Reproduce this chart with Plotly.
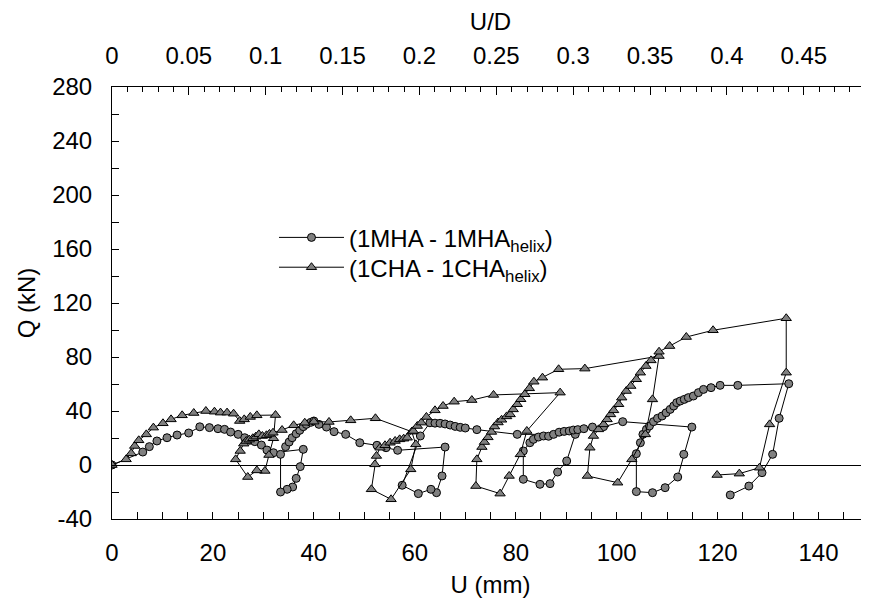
import numpy as np
import plotly.graph_objects as go

# ---------------- data ----------------
D_MM = 304.6  # pile diameter used for the secondary U/D axis

circ_u = [0, 6.1, 7.4, 8.9, 10.9, 12.9, 15.2, 17.4, 19.3, 21.0, 22.3, 23.5, 25.0, 26.3, 27.3,
          28.3, 29.6, 30.7, 32.0, 37.9, 37.3, 36.5, 35.8, 34.7, 33.4, 33.4, 34.4, 35.1, 35.7,
          36.5, 37.2, 37.9, 38.5, 39.4, 40.0, 41.0, 42.5, 44.0, 46.3, 49.1, 52.5, 54.3, 56.6,
          66.0, 65.4, 64.3, 63.2, 60.7, 57.5, 61.1, 63.0, 64.0, 65.0, 66.0, 67.0, 68.0, 69.0,
          70.0, 72.3, 80.3, 91.8, 90.1, 88.3, 86.8, 84.8, 81.5, 81.5, 82.8, 83.5, 84.5, 85.5,
          86.5, 87.5, 88.6, 89.6, 90.6, 91.4, 92.3, 93.5, 95.2, 97.4, 101.2, 114.9, 113.3, 112.1,
          109.6, 107.1, 103.9, 103.9, 104.7, 105.2, 105.9, 106.5, 107.3, 108.1, 109.0, 109.8,
          110.6, 111.3, 111.9, 112.6, 113.4, 114.2, 115.2, 116.2, 117.2, 118.7, 120.5, 124.0,
          134.1, 132.2, 130.9, 128.8, 126.2, 122.5]
circ_q = [0, 9.6, 13.6, 17.8, 20.2, 22.2, 23.7, 28.3, 27.7, 26.9, 26.4, 24.4, 22.7, 20.2, 18.3,
          17.3, 14.8, 11.1, 9.1, 11.6, -1.2, -9.9, -16.3, -18.0, -20.0, 7.9, 13.6, 17.0, 20.2,
          23.2, 25.7, 28.4, 30.1, 31.6, 32.6, 30.1, 28.1, 24.7, 22.7, 16.5, 14.6, 12.8, 10.9,
          13.3, -8.1, -20.5, -18.0, -21.2, -15.0, 21.5, 31.3, 31.0, 30.9, 30.4, 29.6, 28.6, 27.9,
          27.4, 26.2, 22.7, 22.7, 3.0, -5.2, -13.8, -14.3, -10.6, 10.4, 16.5, 19.0, 20.7, 21.5,
          21.3, 22.7, 24.3, 24.9, 25.2, 25.9, 26.2, 26.9, 28.1, 28.4, 32.1, 28.1, 7.9, -8.9,
          -16.8, -20.5, -19.7, 8.4, 16.5, 22.7, 26.4, 28.9, 32.1, 34.6, 36.3, 38.7,
          41.2, 43.7, 46.2, 47.4, 48.6, 49.9, 51.1, 53.6, 56.0, 57.3, 59.0, 59.0,
          60.2, 34.6, 7.9, -5.7, -15.6, -22.2]

tri_u = [0, 2.8, 3.8, 4.5, 5.3, 6.8, 8.2, 10.1, 11.7, 13.9, 16.2, 18.6, 20.3, 21.5, 22.8, 24.1,
         25.3, 26.2, 27.4, 28.7, 32.4, 32.0, 31.1, 30.3, 28.7, 26.9, 24.5, 25.4, 26.1, 26.6,
         27.2, 27.9, 28.5, 29.1, 29.8, 30.6, 31.2, 31.9, 33.7, 36.0, 38.2, 40.0, 43.0, 47.3,
         52.2, 59.4, 60.2, 59.2, 55.3, 51.4, 52.1, 52.4, 53.1, 54.1, 55.1, 56.1, 57.0, 57.8,
         58.5, 59.7, 60.5, 61.3, 62.3, 64.0, 65.6, 67.8, 71.3, 75.6, 88.8, 82.2, 80.9, 78.7,
         76.9, 72.1, 72.3, 73.3, 73.8, 74.5, 75.2, 75.8, 76.5, 77.2, 78.2, 78.9, 79.5, 80.3,
         81.0, 81.8, 82.7, 83.6, 85.3, 88.5, 93.7, 108.4, 107.1, 105.7, 103.0, 100.2, 94.2,
         94.7, 95.4, 96.4, 97.4, 98.1, 98.8, 99.4, 100.4, 101.0, 101.9, 102.8, 103.9, 104.7,
         105.8, 106.8, 108.4, 110.5, 113.8, 119.1, 133.6, 133.6, 130.3, 128.3, 124.3, 119.9]
tri_q = [0, 4.2, 8.6, 14.1, 18.3, 22.7, 27.7, 30.9, 33.8, 36.8, 38.5, 40.0, 39.5, 38.8, 38.8, 38.0,
         32.6, 33.8, 35.6, 36.8, 37.0, 19.8, 7.4, -4.4, -4.0, -8.9, 4.2, 10.4, 15.8, 17.8,
         18.8, 19.8, 21.0, 22.7, 21.5, 22.0, 23.0, 23.9, 25.9, 29.4, 31.3, 32.1, 31.9, 33.1,
         34.6, 24.7, 15.3, -3.2, -25.4, -18.0, 0.5, 6.7, 12.8, 14.6, 16.5, 17.8, 19.0, 19.5,
         20.2, 25.2, 28.9, 31.4, 35.6, 40.5, 43.7, 46.9, 48.1, 51.9, 53.6, 25.2, 7.9, -8.1,
         -21.2, -15.6, 4.2, 13.3, 17.0, 20.5, 24.5, 28.5, 31.5, 33.5, 36.0, 37.5, 41.2, 45.0,
         48.7, 52.4, 56.8, 61.7, 64.7, 70.9, 71.4, 80.7, 48.6, 22.7, 4.2, -13.1, -8.1,
         12.8, 21.5, 26.4, 30.1, 33.8, 37.5, 40.5, 45.0, 49.9, 54.8, 58.5, 63.5, 68.4,
         73.3, 77.5, 83.9, 88.1, 94.8, 99.8, 108.7, 68.4, 30.1, -2.0, -6.4, -7.4]

name_circ = "(1MHA - 1MHA<sub>helix</sub>)"
name_tri = "(1CHA - 1CHA<sub>helix</sub>)"

x_ticks_top = [0, 0.05, 0.1, 0.15, 0.2, 0.25, 0.3, 0.35, 0.4, 0.45]
y_ticks = [-40, 0, 40, 80, 120, 160, 200, 240, 280]

# ---------------- figure ----------------
FONT = "Liberation Sans, Arial, sans-serif"
fig = go.Figure()
fig.add_trace(go.Scatter(
    x=circ_u, y=circ_q, mode="lines+markers", name=name_circ, legend="legend",
    line=dict(color="black", width=1),
    marker=dict(symbol="circle", size=8, color="#808080", line=dict(color="black", width=1)),
))
fig.add_trace(go.Scatter(
    x=tri_u, y=tri_q, mode="lines+markers", name=name_tri, legend="legend2",
    line=dict(color="black", width=1),
    marker=dict(symbol="triangle-up", size=9, color="#808080", line=dict(color="black", width=1)),
))
# invisible companion trace that activates the secondary (U/D) axis
fig.add_trace(go.Scatter(
    x=np.array(circ_u) / D_MM, y=circ_q, xaxis="x2", mode="markers",
    marker=dict(opacity=0), showlegend=False, hoverinfo="skip",
))

axis_common = dict(showgrid=False, showline=True, linecolor="black", linewidth=1,
                   ticks="inside", tickcolor="black", tickwidth=1,
                   tickfont=dict(family=FONT, size=24, color="black"))

legend_common = dict(xanchor="left", yanchor="top", bgcolor="rgba(0,0,0,0)",
                     font=dict(family=FONT, size=24, color="black"), itemwidth=65)

fig.update_layout(
    width=869, height=602,
    margin=dict(l=104, r=8, t=79, b=91, autoexpand=False),
    paper_bgcolor="white", plot_bgcolor="white",
    font=dict(family=FONT, size=24, color="black"),
    showlegend=True,
    legend=dict(x=0.214, y=0.703, **legend_common),
    legend2=dict(x=0.214, y=0.634, **legend_common),
    xaxis=dict(range=[0, 150], tick0=0, dtick=20, ticklen=7, zeroline=False,
               minor=dict(dtick=5, ticks="inside", ticklen=7, tickcolor="black"),
               ticklabelstandoff=12,
               title=dict(text="U (mm)", standoff=11, font=dict(family=FONT, size=24)),
               **axis_common),
    xaxis2=dict(overlaying="x", side="top", anchor="y", range=[0, 150 / D_MM],
                tickmode="array", tickvals=x_ticks_top,
                ticktext=[f"{v:g}" for v in x_ticks_top], ticklen=8, zeroline=False,
                minor=dict(dtick=0.01, tick0=0, ticks="inside", ticklen=5, tickcolor="black"),
                ticklabelstandoff=12,
                title=dict(text="U/D", standoff=7, font=dict(family=FONT, size=24)),
                **axis_common),
    yaxis=dict(range=[-40, 280], tickmode="array", tickvals=y_ticks,
               ticktext=[str(v) for v in y_ticks], ticklen=7,
               zeroline=True, zerolinecolor="black", zerolinewidth=1,
               minor=dict(tickmode="linear", tick0=0, dtick=20, ticks="inside", ticklen=7,
                          tickcolor="black"),
               ticklabelstandoff=14,
               title=dict(text="Q (kN)", standoff=9, font=dict(family=FONT, size=24)),
               **axis_common),
)

fig.write_html("out.html")
